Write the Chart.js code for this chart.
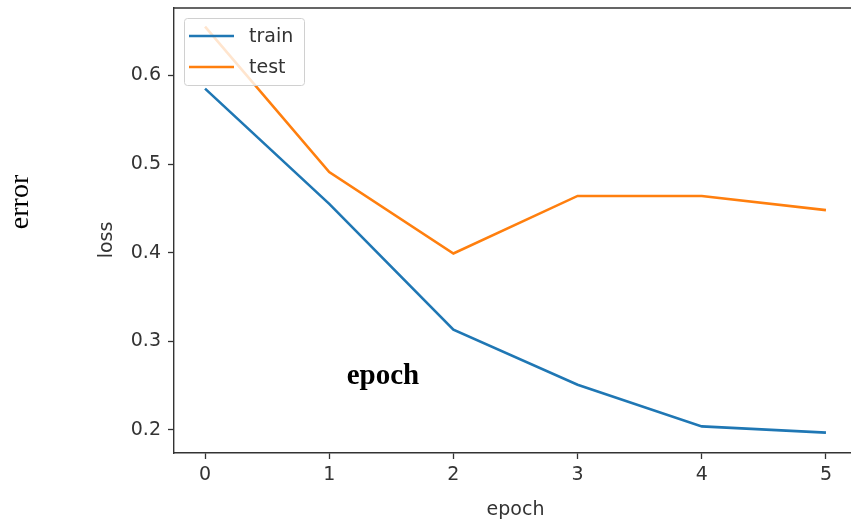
<!DOCTYPE html>
<html>
<head>
<meta charset="utf-8">
<script src="https://cdn.jsdelivr.net/npm/chart.js@4/dist/chart.umd.min.js"></script>
<style>
  html, body { margin: 0; padding: 0; background: #fff; overflow: hidden; }
  #wrap { width: 851px; height: 523px; overflow: hidden; }
  canvas { display: block; }
</style>
</head>
<body>
<div id="wrap"><canvas id="chart" width="870" height="523"></canvas></div>
<script>
// Training history
const epochs = [0, 1, 2, 3, 4, 5];
const trainLoss = [0.585, 0.455, 0.313, 0.251, 0.204, 0.197];
const testLoss = [0.655, 0.491, 0.399, 0.464, 0.464, 0.448];
const xTicks = [0, 1, 2, 3, 4, 5];
const yTicks = [0.2, 0.3, 0.4, 0.5, 0.6];
const seriesNames = ['train', 'test'];
const seriesColors = ['#1f77b4', '#ff7f0e'];

const TEXT = '#333333';
const SANS = '"DejaVu Sans", sans-serif';
const SERIF = '"Liberation Serif", "DejaVu Serif", serif';

// Top frame line, y title, in-axes legend and the serif annotations
const extras = {
  id: 'extras',
  afterDraw(chart) {
    const { ctx, chartArea: a } = chart;
    ctx.save();
    ctx.strokeStyle = '#333';
    ctx.lineWidth = 1.4;
    ctx.beginPath();
    ctx.moveTo(a.left, a.top);
    ctx.lineTo(a.right, a.top);
    ctx.lineTo(a.right, a.bottom);
    ctx.stroke();

    // y axis title
    ctx.save();
    ctx.translate(107, 240);
    ctx.rotate(-Math.PI / 2);
    ctx.fillStyle = TEXT;
    ctx.font = '19px ' + SANS;
    ctx.textAlign = 'center';
    ctx.textBaseline = 'middle';
    ctx.fillText('loss', 0, 0);
    ctx.restore();

    // legend box
    const lx = 184, ly = 18, lw = 120, lh = 67;
    ctx.fillStyle = 'rgba(255,255,255,0.8)';
    ctx.strokeStyle = '#d0d0d0';
    ctx.lineWidth = 1;
    ctx.beginPath();
    ctx.roundRect(lx + 0.5, ly + 0.5, lw, lh, 3);
    ctx.fill();
    ctx.stroke();
    ctx.font = '19px ' + SANS;
    ctx.textBaseline = 'middle';
    ctx.textAlign = 'left';
    seriesNames.forEach((name, i) => {
      const y = 36 + i * 31;
      ctx.strokeStyle = seriesColors[i];
      ctx.lineWidth = 2.6;
      ctx.beginPath();
      ctx.moveTo(189, y);
      ctx.lineTo(234, y);
      ctx.stroke();
      ctx.fillStyle = TEXT;
      ctx.fillText(name, 249, y + 1);
    });

    // annotations
    ctx.fillStyle = '#000';
    ctx.font = 'bold 29px ' + SERIF;
    ctx.textAlign = 'center';
    ctx.textBaseline = 'alphabetic';
    ctx.fillText('epoch', 383, 384);
    ctx.save();
    ctx.translate(28, 202);
    ctx.rotate(-Math.PI / 2);
    ctx.font = '28px ' + SERIF;
    ctx.fillText('error', 0, 0);
    ctx.restore();
    ctx.restore();
  }
};

new Chart(document.getElementById('chart'), {
  type: 'line',
  data: {
    datasets: [
      { label: seriesNames[0], data: epochs.map((e, i) => ({ x: e, y: trainLoss[i] })) },
      { label: seriesNames[1], data: epochs.map((e, i) => ({ x: e, y: testLoss[i] })) }
    ].map((d, i) => Object.assign(d, {
      borderColor: seriesColors[i],
      backgroundColor: seriesColors[i],
      borderWidth: 2.6,
      pointRadius: 0,
      tension: 0,
      fill: false
    }))
  },
  options: {
    responsive: false,
    animation: false,
    devicePixelRatio: 1,
    layout: { padding: { left: 0, top: 8, right: 13, bottom: 0 } },
    plugins: { legend: { display: false }, tooltip: { enabled: false } },
    scales: {
      x: {
        type: 'linear',
        min: -0.25,
        max: 5.25,
        afterBuildTicks(s) { s.ticks = xTicks.map(v => ({ value: v })); },
        afterFit(s) { s.height = 70; s.paddingLeft = 0; s.paddingRight = 0; },
        grid: { drawOnChartArea: false, tickLength: 6, tickColor: '#333', tickWidth: 1.3 },
        border: { display: true, color: '#333', width: 1.4 },
        ticks: { color: TEXT, font: { family: SANS, size: 19 }, padding: 5, maxRotation: 0,
                 callback: v => String(v) },
        title: { display: true, text: 'epoch', color: TEXT, font: { family: SANS, size: 19 },
                 padding: { top: 0, bottom: 2 } }
      },
      y: {
        min: 0.174,
        max: 0.676,
        afterBuildTicks(s) { s.ticks = yTicks.map(v => ({ value: v })); },
        afterFit(s) { s.width = 174; s.paddingTop = 0; s.paddingBottom = 0; },
        grid: { drawOnChartArea: false, tickLength: 6, tickColor: '#333', tickWidth: 1.3 },
        border: { display: true, color: '#333', width: 1.4 },
        ticks: { color: TEXT, font: { family: SANS, size: 19 }, padding: 7,
                 callback: v => v.toFixed(1) }
      }
    }
  },
  plugins: [extras]
});
</script>
</body>
</html>
